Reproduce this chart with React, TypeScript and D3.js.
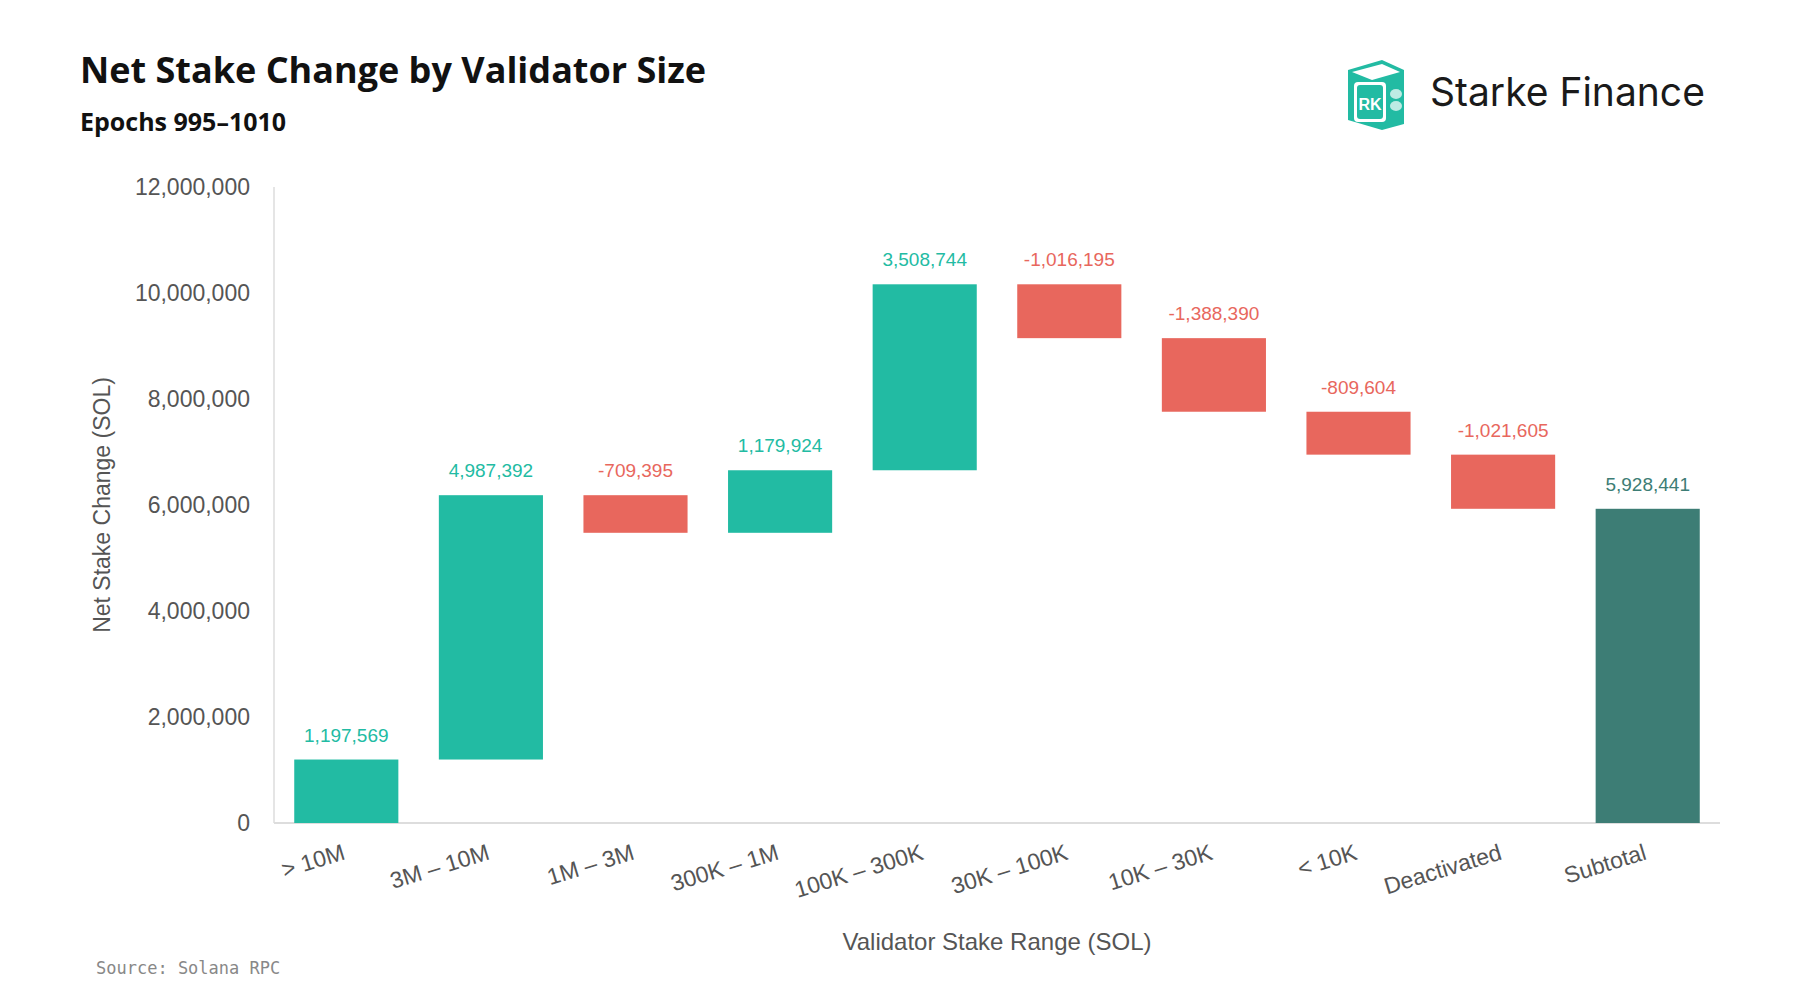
import React from "react";
import * as d3 from "d3";

const categories = [">\u00a010M", "3M – 10M", "1M – 3M", "300K – 1M", "100K – 300K", "30K – 100K", "10K – 30K", "< 10K", "Deactivated", "Subtotal"];
const changes = [1197569, 4987392, -709395, 1179924, 3508744, -1016195, -1388390, -809604, -1021605];
const subtotal = 5928441;
const yTicks = [0, 2000000, 4000000, 6000000, 8000000, 10000000, 12000000];

const W = 1800, H = 1000;
const M = { left: 274, right: 1720, top: 187, bottom: 823 };
const UP = "#22BBA3", DOWN = "#E8675D", TOTAL = "#3D7D75";

export default function App() {
  const x = d3.scaleBand<string>().domain(categories).range([M.left, M.right]).paddingInner(0.28).paddingOuter(0.14);
  const y = d3.scaleLinear().domain([0, 12000000]).range([M.bottom, M.top]);
  const fmt = (v: number) => d3.format(",")(v).replace("−", "-");

  let run = 0;
  const bars = changes.map((v, i) => {
    const start = run;
    run += v;
    return { cat: categories[i], lo: Math.min(start, run), hi: Math.max(start, run), v, color: v >= 0 ? UP : DOWN };
  });
  bars.push({ cat: categories[9], lo: 0, hi: subtotal, v: subtotal, color: TOTAL });

  const font = "Liberation Sans, Arial, sans-serif";
  return (
    <svg width={W} height={H} style={{ display: "block", margin: -8 }} fontFamily={font}>
      <rect width={W} height={H} fill="#fff" />
      <text x={80} y={83} fontSize={36} fontWeight={700} fontFamily="Open Sans, sans-serif" fill="#111">Net Stake Change by Validator Size</text>
      <text x={80} y={131} fontSize={25} fontWeight={700} fontFamily="Open Sans, sans-serif" fill="#111">Epochs 995–1010</text>

      <g transform="translate(1342,58)">
        <path d="M6 12 L40 2 L62 12 L62 66 L40 72 L6 62 Z" fill="#22BBA3" />
        <rect x={12} y={24} width={32} height={40} rx={4} fill="#fff" />
        <rect x={15} y={27} width={26} height={34} rx={3} fill="#22BBA3" />
        <path d="M10 14 L40 6 L58 14 L30 22 Z" fill="#fff" />
        <text x={28} y={52} fontSize={16} fontWeight={700} fill="#fff" textAnchor="middle">RK</text>
        <ellipse cx={54} cy={36} rx={6} ry={5} fill="#fff" opacity={0.7} />
        <ellipse cx={54} cy={48} rx={6} ry={5} fill="#fff" opacity={0.7} />
      </g>
      <text x={1430} y={106} fontSize={39} fontFamily="Inter, sans-serif" fill="#1a1a1a">Starke Finance</text>

      <line x1={M.left} x2={M.left} y1={M.top} y2={M.bottom} stroke="#ddd" strokeWidth={1.5} />
      <line x1={M.left} x2={M.right} y1={M.bottom} y2={M.bottom} stroke="#ddd" strokeWidth={2} />
      {yTicks.map(t => (
        <text key={t} x={250} y={y(t)} dy="0.35em" textAnchor="end" fontSize={23} fill="#555">{fmt(t)}</text>
      ))}
      <text transform={`translate(110,${(M.top + M.bottom) / 2}) rotate(-90)`} textAnchor="middle" fontSize={23} fill="#555">Net Stake Change (SOL)</text>

      {bars.map(b => {
        const bx = x(b.cat)!;
        return (
          <g key={b.cat}>
            <rect x={bx} width={x.bandwidth()} y={y(b.hi)} height={y(b.lo) - y(b.hi)} fill={b.color} />
            <text x={bx + x.bandwidth() / 2} y={y(b.hi) - 18} textAnchor="middle" fontSize={19} fill={b.color}>{fmt(b.v)}</text>
            <text transform={`translate(${bx + x.bandwidth() / 2},${M.bottom + 36}) rotate(-17)`} textAnchor="end" fontSize={23} fill="#555">{b.cat}</text>
          </g>
        );
      })}
      <text x={(M.left + M.right) / 2} y={950} textAnchor="middle" fontSize={24} fill="#555">Validator Stake Range (SOL)</text>
      <text x={96} y={974} fontSize={17} fontFamily="DejaVu Sans Mono, monospace" fill="#888">Source: Solana RPC</text>
    </svg>
  );
}
